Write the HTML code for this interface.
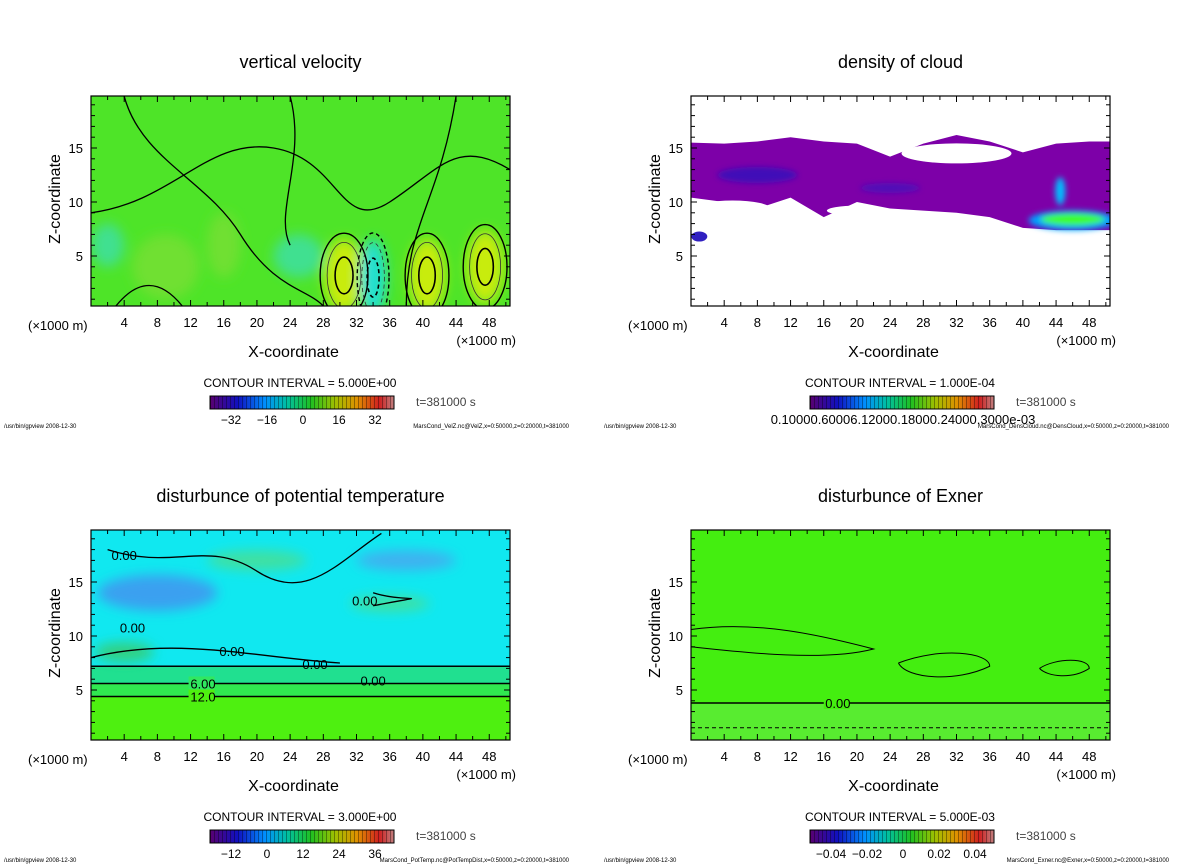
<!DOCTYPE html>
<html><head><meta charset="utf-8"><style>
html,body{margin:0;background:#fff;overflow:hidden;width:1200px;height:868px;}
svg{display:block;font-family:"Liberation Sans",sans-serif;}
</style></head><body>
<svg id="fig" width="1200" height="868" viewBox="0 0 1200 868" xmlns="http://www.w3.org/2000/svg">
<defs>
<linearGradient id="cbar" x1="0" x2="1" y1="0" y2="0">
<stop offset="0" stop-color="#5a0070"/><stop offset="0.15" stop-color="#1010c0"/><stop offset="0.3" stop-color="#0090ff"/><stop offset="0.42" stop-color="#00c0a0"/><stop offset="0.55" stop-color="#20c020"/><stop offset="0.68" stop-color="#a0c000"/><stop offset="0.8" stop-color="#e09000"/><stop offset="0.92" stop-color="#d02020"/><stop offset="1" stop-color="#c08080"/>
</linearGradient>
<pattern id="stripes" width="4" height="10" patternUnits="userSpaceOnUse"><rect x="2" width="1" height="10" fill="rgba(0,0,0,0.35)"/></pattern>
<filter id="blur6"><feGaussianBlur stdDeviation="6"/></filter>
<filter id="blur3"><feGaussianBlur stdDeviation="3"/></filter>
<clipPath id="c0"><rect x="91" y="96" width="419" height="210"/></clipPath>
<clipPath id="c1"><rect x="691" y="96" width="419" height="210"/></clipPath>
<clipPath id="c2"><rect x="91" y="530" width="419" height="210"/></clipPath>
<clipPath id="c3"><rect x="691" y="530" width="419" height="210"/></clipPath>
</defs>
</svg>
<script>
const xTicks=[4,8,12,16,20,24,28,32,36,40,44,48];
const zTicks=[5,10,15];
const titles=["vertical velocity","density of cloud","disturbunce of potential temperature","disturbunce of Exner"];
const intervals=["CONTOUR INTERVAL = 5.000E+00","CONTOUR INTERVAL = 1.000E-04","CONTOUR INTERVAL = 3.000E+00","CONTOUR INTERVAL = 5.000E-03"];
const cbarLabels=[["-32","-16","0","16","32"],["0.10000.60006.12000.18000.24000.3000e-03"],["-12","0","12","24","36"],["-0.04","-0.02","0","0.02","0.04"]];
const files=["MarsCond_VelZ.nc@VelZ,x=0:50000,z=0:20000,t=381000","MarsCond_DensCloud.nc@DensCloud,x=0:50000,z=0:20000,t=381000","MarsCond_PotTemp.nc@PotTempDist,x=0:50000,z=0:20000,t=381000","MarsCond_Exner.nc@Exner,x=0:50000,z=0:20000,t=381000"];
// velocity cells: x, z, rx, rz, value
const velX=[30.5,34,40.5,47.5,9,16,25,2];
const velZ=[3.2,3.0,3.2,4.0,4,6,5,6];
const velV=[12,-12,12,16,4,4,-4,-4];
const velRX=[2.4,1.6,2.2,2.2,4,2,3,2];
const velRZ=[3.4,3.6,3.4,3.4,3,3,2,2];
// cloud top / bottom boundaries along x
const cloudEdgeX=[0,4,8,12,16,20,24,28,32,36,40,44,48,50.5];
const cloudTop=[15.5,15.4,15.6,16,15.6,15.4,14.2,15.4,16.2,15.6,14.6,15.4,15.6,15.6];
const cloudBot=[10.4,10,9.4,10.4,8.6,10,9.4,9.2,9.0,8.6,7.6,7.4,7.4,7.4];
const ptLevels=[0,6,12];
const ptZ=[7.2,5.6,4.4];
const exZ=[3.8,1.5];

const svg=document.getElementById('fig');
const NS="http://www.w3.org/2000/svg";
function el(t,a,p){const e=document.createElementNS(NS,t);for(const k in a)e.setAttribute(k,a[k]);(p||svg).appendChild(e);return e;}
function txt(x,y,s,size,anchor,p){const e=el('text',{x:x,y:y,'font-size':size,'text-anchor':anchor||'middle',fill:'#000'},p);e.textContent=s;return e;}
const panels=[{px:91,py:96},{px:691,py:96},{px:91,py:530},{px:691,py:530}];
const W=419,H=210;
function sx(p,x){return p.px+x*W/50.5;}
function sz(p,z){return p.py+214-z*10.8;}

panels.forEach((p,i)=>{
  const g=el('g',{});
  
  
  const t=txt(p.px+W/2,p.py-28,titles[i],18,'middle',g);
  
  
  const plot=el('g',{'clip-path':'url(#c'+i+')'},g);
  
  
  if(i===0){
    el('rect',{x:p.px,y:p.py,width:W,height:H,fill:'#4ee428'},plot);
    const bl=el('g',{filter:'url(#blur6)'},plot);
    for(let k=0;k<velX.length;k++){
      const c=velV[k]>8?'#c8ec10':velV[k]>0?'#70e030':velV[k]<-8?'#20e0d0':'#40e090';
      el('ellipse',{cx:sx(p,velX[k]),cy:sz(p,velZ[k]),rx:velRX[k]*8.3,ry:velRZ[k]*10.8,fill:c},bl);
    }
    for(let k=0;k<4;k++){
      el('ellipse',{cx:sx(p,velX[k]),cy:sz(p,velZ[k]),rx:velRX[k]*8.3*1.2,ry:velRZ[k]*10.8*1.15,fill:'none',stroke:'#000','stroke-width':1.4,'stroke-dasharray':velV[k]<0?'4 3':'none'},plot);
      el('ellipse',{cx:sx(p,velX[k]),cy:sz(p,velZ[k]),rx:velRX[k]*8.3*0.85,ry:velRZ[k]*10.8*0.9,fill:'none',stroke:'#333','stroke-width':0.8,'stroke-dasharray':velV[k]<0?'4 3':'none'},plot);
      el('ellipse',{cx:sx(p,velX[k]),cy:sz(p,velZ[k]),rx:velRX[k]*8.3*0.45,ry:velRZ[k]*10.8*0.5,fill:'none',stroke:'#000','stroke-width':1.6,'stroke-dasharray':velV[k]<0?'4 3':'none'},plot);
    }
    el('path',{d:`M${sx(p,3)},306 Q${sx(p,7)},265 ${sx(p,11)},306 M${p.px},${sz(p,9)} C${sx(p,10)},${sz(p,10)} ${sx(p,14)},${sz(p,16)} ${sx(p,22)},${sz(p,15)} S${sx(p,30)},${sz(p,7)} ${sx(p,36)},${sz(p,10)} S${sx(p,44)},${sz(p,16)} ${sx(p,50.5)},${sz(p,13)}
      M${sx(p,4)},${sz(p,19.8)} C${sx(p,6)},${sz(p,14)} ${sx(p,14)},${sz(p,12)} ${sx(p,18)},${sz(p,7)} S${sx(p,26)},${sz(p,2)} ${sx(p,28)},306
      M${sx(p,24)},${sz(p,19.8)} C${sx(p,26)},${sz(p,14)} ${sx(p,22)},${sz(p,9)} ${sx(p,24)},${sz(p,6)} M${sx(p,38)},306 C${sx(p,38)},${sz(p,8)} ${sx(p,42)},${sz(p,10)} ${sx(p,44)},${sz(p,19.8)}`,fill:'none',stroke:'#000','stroke-width':1.3},plot);
  } else if(i===1){
    el('rect',{x:p.px,y:p.py,width:W,height:H,fill:'#fff'},plot);
    let d='M'+cloudEdgeX.map((x,k)=>sx(p,x)+','+sz(p,cloudTop[k])).join(' L');
    for(let k=cloudEdgeX.length-1;k>=0;k--)d+=' L'+sx(p,cloudEdgeX[k])+','+sz(p,cloudBot[k]);
    el('path',{d:d+'Z',fill:'#7d00a8'},plot);
    el('ellipse',{cx:sx(p,32),cy:sz(p,14.5),rx:55,ry:10,fill:'#fff'},plot);
    el('ellipse',{cx:sx(p,5),cy:sz(p,9.4),rx:38,ry:8,fill:'#fff'},plot);
    el('ellipse',{cx:sx(p,20),cy:sz(p,9.2),rx:30,ry:5,fill:'#fff'},plot);
    el('ellipse',{cx:sx(p,1),cy:sz(p,6.8),rx:8,ry:5,fill:'#3020c0'},plot);
    const bl=el('g',{filter:'url(#blur3)'},plot);
    el('ellipse',{cx:sx(p,8),cy:sz(p,12.5),rx:40,ry:8,fill:'#4010b8'},bl);
    el('ellipse',{cx:sx(p,24),cy:sz(p,11.3),rx:30,ry:5,fill:'#5010b8'},bl);
    el('ellipse',{cx:sx(p,46),cy:sz(p,8.3),rx:44,ry:10,fill:'#00a0ff'},bl);
    el('ellipse',{cx:sx(p,46),cy:sz(p,8.4),rx:32,ry:6,fill:'#40ff20'},bl);
    el('ellipse',{cx:sx(p,44.5),cy:sz(p,11),rx:5,ry:14,fill:'#00c0ff'},bl);
  } else if(i===2){
    el('rect',{x:p.px,y:p.py,width:W,height:H,fill:'#4ef010'},plot);
    el('rect',{x:p.px,y:p.py,width:W,height:sz(p,ptZ[0])-p.py,fill:'#10e8f0'},plot);
    el('rect',{x:p.px,y:sz(p,ptZ[0]),width:W,height:sz(p,ptZ[1])-sz(p,ptZ[0]),fill:'#20e090'},plot);
    el('rect',{x:p.px,y:sz(p,ptZ[1]),width:W,height:sz(p,ptZ[2])-sz(p,ptZ[1]),fill:'#30e850'},plot);
    const bl=el('g',{filter:'url(#blur6)'},plot);
    el('ellipse',{cx:sx(p,8),cy:sz(p,14),rx:60,ry:18,fill:'#3aa0f0'},bl);
    el('ellipse',{cx:sx(p,38),cy:sz(p,17),rx:50,ry:10,fill:'#40b0f0'},bl);
    el('ellipse',{cx:sx(p,20),cy:sz(p,17),rx:50,ry:10,fill:'#40e0a0'},bl);
    el('ellipse',{cx:sx(p,36),cy:sz(p,13),rx:40,ry:8,fill:'#40e0a0'},bl);
    el('ellipse',{cx:sx(p,4),cy:sz(p,8.5),rx:30,ry:10,fill:'#30d080'},bl);
    ptLevels.forEach((lv,k)=>{
      const y=sz(p,ptZ[k]);
      el('line',{x1:p.px,x2:p.px+W,y1:y,y2:y,stroke:'#000','stroke-width':1.5},plot);
      if(k>0){el('rect',{x:sx(p,12)-2,y:y-7,width:26,height:13,fill:k===1?'#30e860':'#4ef010'},plot);
      txt(sx(p,13.5),y+5,lv===6?'6.00':'12.0',13,'middle',plot);}
    });
    el('path',{d:`M${p.px},${sz(p,8)} C${sx(p,10)},${sz(p,10)} ${sx(p,20)},${sz(p,8)} ${sx(p,30)},${sz(p,7.5)} M${sx(p,2)},${sz(p,18)} C${sx(p,10)},${sz(p,16)} ${sx(p,14)},${sz(p,19)} ${sx(p,20)},${sz(p,16)} S${sx(p,30)},${sz(p,17)} ${sx(p,35)},${sz(p,19.5)} M${sx(p,34)},${sz(p,14)} C${sx(p,38)},${sz(p,13)} ${sx(p,42)},${sz(p,14)} ${sx(p,34)},${sz(p,12.8)}`,fill:'none',stroke:'#000','stroke-width':1.3},plot);
    [[4,17.5],[5,10.8],[17,8.6],[27,7.4],[33,13.3],[34,5.9]].forEach(a=>{txt(sx(p,a[0]),sz(p,a[1])+5,'0.00',13,'middle',plot);});
  } else {
    el('rect',{x:p.px,y:p.py,width:W,height:H,fill:'#44ee10'},plot);
    el('rect',{x:p.px,y:sz(p,exZ[0]),width:W,height:H,fill:'#58ec30'},plot);
    el('line',{x1:p.px,x2:p.px+W,y1:sz(p,exZ[0]),y2:sz(p,exZ[0]),stroke:'#000','stroke-width':1.5},plot);
    el('line',{x1:p.px,x2:p.px+W,y1:sz(p,exZ[1]),y2:sz(p,exZ[1]),stroke:'#000','stroke-width':1,'stroke-dasharray':'4 3'},plot);
    el('rect',{x:sx(p,16),y:sz(p,exZ[0])-7,width:26,height:13,fill:'#44ee10'},plot);
    txt(sx(p,17.7),sz(p,exZ[0])+5,'0.00',13,'middle',plot);
    el('path',{d:`M${p.px},${sz(p,10.6)} C${sx(p,8)},${sz(p,11.5)} ${sx(p,16)},${sz(p,10)} ${sx(p,22)},${sz(p,8.8)} C${sx(p,16)},${sz(p,7.6)} ${sx(p,6)},${sz(p,8.5)} ${p.px},${sz(p,9)} M${sx(p,25)},${sz(p,7.5)} C${sx(p,30)},${sz(p,9)} ${sx(p,36)},${sz(p,8.5)} ${sx(p,36)},${sz(p,7.2)} C${sx(p,32)},${sz(p,5.7)} ${sx(p,26)},${sz(p,6)} ${sx(p,25)},${sz(p,7.5)} M${sx(p,42)},${sz(p,7)} C${sx(p,44)},${sz(p,8)} ${sx(p,48)},${sz(p,8)} ${sx(p,48)},${sz(p,7)} C${sx(p,46)},${sz(p,6)} ${sx(p,43)},${sz(p,6.2)} ${sx(p,42)},${sz(p,7)}`,fill:'none',stroke:'#000','stroke-width':1},plot);
  }
  el('rect',{x:p.px,y:p.py,width:W,height:H,fill:'none',stroke:'#000','stroke-width':1.2},g);
  for(let x=2;x<=50;x+=2){
    const X=sx(p,x),len=x%4===0?6:4;
    el('line',{x1:X,x2:X,y1:p.py+H,y2:p.py+H-len,stroke:'#000'},g);
    el('line',{x1:X,x2:X,y1:p.py,y2:p.py+len,stroke:'#000'},g);
  }
  xTicks.forEach(x=>{const e=txt(sx(p,x),p.py+H+21,String(x),13,'middle',g);
    
    });
  for(let z=1;z<=19;z++){
    const Y=sz(p,z),len=z%5===0?6:4;
    el('line',{x1:p.px,x2:p.px+len,y1:Y,y2:Y,stroke:'#000'},g);
    el('line',{x1:p.px+W,x2:p.px+W-len,y1:Y,y2:Y,stroke:'#000'},g);
  }
  zTicks.forEach(z=>{const e=txt(p.px-8,sz(p,z)+5,String(z),13,'end',g);
    
    });
  txt(p.px-63,p.py+H+24,'(×1000 m)',13,'start',g);
  txt(p.px+W+6,p.py+H+39,'(×1000 m)',13,'end',g);
  const xt=txt(p.px+W/2-7,p.py+H+51,'X-coordinate',16,'middle',g);
  
  
  const yt=el('text',{x:0,y:0,'font-size':16,'text-anchor':'middle',transform:`translate(${p.px-31},${p.py+103}) rotate(-90)`},g);
  yt.textContent='Z-coordinate';
  
  
  const ci=txt(p.px+209,p.py+291,intervals[i],12,'middle',g);
  
  
  const cb=el('g',{},g);
  
  
  el('rect',{x:p.px+119,y:p.py+300,width:184,height:13,fill:'url(#cbar)',stroke:'#000'},cb);
  el('rect',{x:p.px+119,y:p.py+300,width:184,height:13,fill:'url(#stripes)'},cb);
  const labs=cbarLabels[i];
  if(labs.length===1){txt(p.px+212,p.py+328,labs[0],13,'middle',cb);}
  else labs.forEach((s,k)=>{txt(p.px+140+k*36,p.py+328,s.replace('-','−'),12,'middle',cb);});
  txt(p.px+325,p.py+310,'t=381000 s',12,'start',g).setAttribute('fill','#444');
  txt(p.px-87,p.py+332,'/usr/bin/gpview  2008-12-30',6,'start',g);
  txt(p.px+478,p.py+332,files[i],6,'end',g);
});
</script>
</body></html>
